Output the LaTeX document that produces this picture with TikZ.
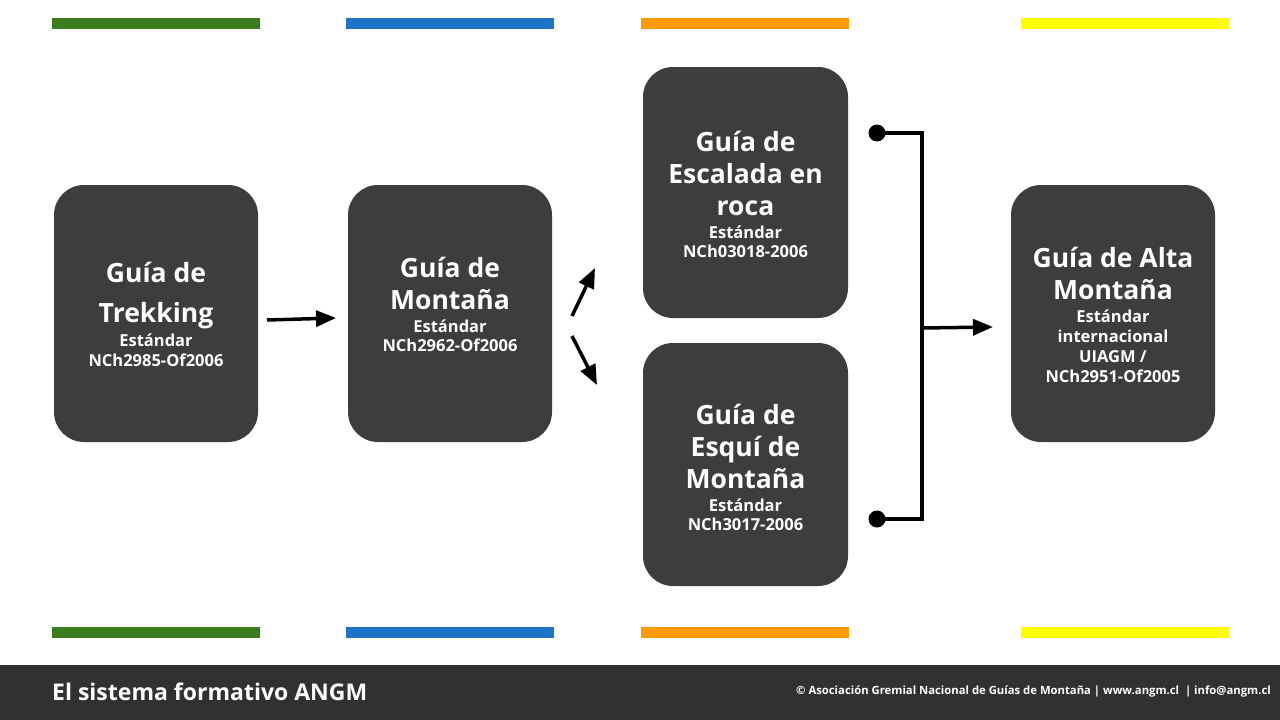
\documentclass[tikz,border=0pt]{standalone}
\usepackage{fontspec}
\setmainfont{Open Sans}
\usetikzlibrary{arrows.meta}
\definecolor{boxgray}{HTML}{3D3D3D}
\definecolor{footgray}{HTML}{313133}
\definecolor{cgreen}{HTML}{3A7D1E}
\definecolor{cblue}{HTML}{1E73C8}
\definecolor{corange}{HTML}{FF9900}
\definecolor{cyellow}{HTML}{FFFF00}
\tikzset{
  gbox/.style={fill=boxgray, rounded corners=30pt, inner sep=0pt},
  gtext/.style={text=white, align=center,
    font=\bfseries\fontsize{26.5}{32}\selectfont, inner sep=0pt},
  bar/.style={line width=11pt},
  conn/.style={line width=3.5pt, black},
  arr/.style={conn, -{Triangle[length=20pt,width=16pt]}},
  dot/.style={circle, fill=black, minimum size=17pt, inner sep=0pt},
}
\newcommand{\sm}[1]{{\fontsize{16.5}{19}\selectfont #1}}
\begin{document}
\begin{tikzpicture}[x=1pt,y=-1pt]
\useasboundingbox (0,0) rectangle (1280,720);
\fill[white] (0,0) rectangle (1280,720);
% color bars
\draw[bar,cgreen] (52,23.5) -- (260,23.5);
\draw[bar,cblue] (346,23.5) -- (554,23.5);
\draw[bar,corange] (641,23.5) -- (849,23.5);
\draw[bar,cyellow] (1021,23.5) -- (1229,23.5);
\draw[bar,cgreen] (52,632.5) -- (260,632.5);
\draw[bar,cblue] (346,632.5) -- (554,632.5);
\draw[bar,corange] (641,632.5) -- (849,632.5);
\draw[bar,cyellow] (1021,632.5) -- (1229,632.5);
% boxes
\node[gbox, minimum width=204pt, minimum height=257pt] (b1) at (156,313.5) {};
\node[gbox, minimum width=204pt, minimum height=257pt] (b2) at (450,313.5) {};
\node[gbox, minimum width=205pt, minimum height=251pt] (b3) at (745.5,192.5) {};
\node[gbox, minimum width=205pt, minimum height=243pt] (b4) at (745.5,464.5) {};
\node[gbox, minimum width=204pt, minimum height=257pt] (b5) at (1113,313.5) {};
% box texts
\node[gtext] (t1) at ([yshift=-0.5pt]b1.center)
  {Guía de\\[8pt]Trekking\\[-8pt]\sm{Estándar}\\[-12pt]\sm{NCh2985-Of2006}};
\node[gtext] (t2) at ([yshift=9.5pt]b2.center)
  {Guía de\\Montaña\\[-9pt]\sm{Estándar}\\[-13pt]\sm{NCh2962-Of2006}};
\node[gtext] (t3) at ([yshift=-2pt]b3.center)
  {Guía de\\Escalada en\\roca\\[-9pt]\sm{Estándar}\\[-13pt]\sm{NCh03018-2006}};
\node[gtext] (t4) at ([yshift=-2.5pt]b4.center)
  {Guía de\\Esquí de\\Montaña\\[-9pt]\sm{Estándar}\\[-13pt]\sm{NCh3017-2006}};
\node[gtext] (t5) at ([yshift=-1.5pt]b5.center)
  {Guía de Alta\\Montaña\\[-9pt]\sm{Estándar}\\[-12pt]\sm{internacional}\\[-12pt]\sm{UIAGM /}\\[-12pt]\sm{NCh2951-Of2005}};
% arrows
\coordinate (a1s) at (267,320);
\coordinate (a1e) at (336,318);
\draw[arr] (a1s) -- (a1e);
\coordinate (u1) at (572,316);
\coordinate (u2) at (595,268);
\coordinate (v1) at (572,336);
\coordinate (v2) at (597,385);
\draw[arr] (u1) -- (u2);
\draw[arr] (v1) -- (v2);
% merge connector
\node[dot] (d1) at (877,133) {};
\node[dot] (d2) at (877,519) {};
\coordinate (j1) at (922,133);
\coordinate (j2) at (922,519);
\coordinate (jm) at (922,328);
\coordinate (e5) at (993,327);
\draw[conn, line join=miter] (d1.center) -- (j1) -- (j2) -- (d2.center);
\draw[arr] (jm) -- (e5);
% footer
\fill[footgray] (0,665) rectangle (1280,720);
\node[anchor=west, text=white, font=\bfseries\fontsize{23}{27}\selectfont, inner sep=0pt] (title) at (52,692) {El sistema formativo ANGM};
\node[anchor=east, text=white, font=\bfseries\fontsize{11.3}{14}\selectfont, inner sep=0pt] (copy) at (1271,692) {© Asociación Gremial Nacional de Guías de Montaña | www.angm.cl \ | info@angm.cl};
\end{tikzpicture}
\end{document}
